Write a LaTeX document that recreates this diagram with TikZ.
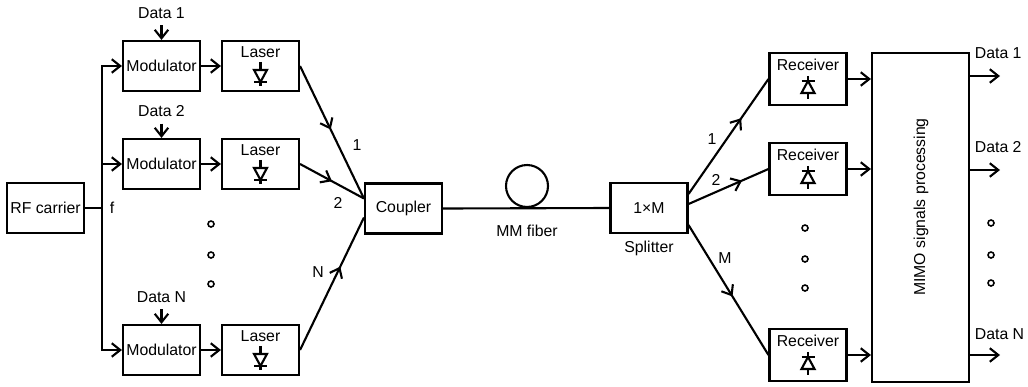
\documentclass[tikz,border=0pt]{standalone}
\usepackage{fontspec}
\setmainfont{Liberation Sans}
\usetikzlibrary{arrows.meta,calc,decorations.markings}

\tikzset{
  blk/.style={draw,minimum width=1.54cm,minimum height=1cm,inner sep=0pt},
  arr/.style={-{Straight Barb[length=1.7mm,width=2.7mm]}},
  midarr/.style={postaction={decorate},decoration={markings,
    mark=at position #1 with {\arrow{Straight Barb[length=1.7mm,width=2.7mm]}}}},
  dot/.style={circle,draw,line width=0.9pt,inner sep=0pt,minimum size=1.2mm},
  ldiode/.pic={
    \draw (0,0) -- (0,8);
    \draw (-6.5,8) -- (6.5,8) -- (0,20) -- cycle;
    \draw (-6.5,20) -- (6.5,20);
    \draw (0,20) -- (0,24);
  },
  pdiode/.pic={
    \draw (0,0) -- (0,5);
    \draw (-6.5,5) -- (6.5,5);
    \draw (0,5) -- (6.5,17) -- (-6.5,17) -- cycle;
    \draw (0,17) -- (0,23);
  }
}

\begin{document}
\begin{tikzpicture}[x=0.02cm,y=-0.02cm,line width=1.2pt,font=\fontsize{9}{10}\selectfont]
\useasboundingbox (0,0) rectangle (1028,386);
% transmitters
\node[blk] (rf) at (45.5,208) {RF carrier};
\coordinate (f) at (102,208);
\draw (rf.east) -- (f);
\node (flab) at (112,208) {f};
\foreach \i/\y in {1/66,2/164,N/350}{
  \node[blk] (mod\i) at (161.5,\y) {Modulator};
  \node[blk] (las\i) at (260.5,\y) {};
  \node (lt\i) at ($(las\i.north)+(0,12)$) {Laser};
  \pic at ($(las\i.north)+(0,22)$) {ldiode};
  \node (d\i) at (161.5,\y-53) {Data \i};
  \draw[arr] (d\i) -- (mod\i);
  \draw[arr] (f) |- (mod\i);
  \draw[arr] (mod\i) -- (las\i);
}
\foreach \y in {224,255,284} \node[dot] (tdot\y) at (211,\y) {};
% coupler and fiber
\node[blk] (cpl) at (403.5,208.5) {Coupler};
\draw[midarr=0.48] (las1.east) -- ($(cpl.west)+(0,-10)$);
\draw[midarr=0.5] (las2.east) -- ($(cpl.west)+(0,-10)$);
\draw[midarr=0.63] (lasN.east) -- ($(cpl.west)+(0,9)$);
\node (n1) at (357,145) {1};
\node (n2) at (338,203) {2};
\node (nN) at (318,272) {N};
\node[blk] (spl) at (649,208) {1×M};
\node (spltxt) at (649,248) {Splitter};
\draw (cpl.east) -- (spl.west);
\node[circle,draw,minimum size=0.84cm,inner sep=0pt] (coil) at (527,186) {};
\node (mmf) at (527,231) {MM fiber};
% receivers
\node[draw,minimum width=1.94cm,minimum height=6.58cm] (mimo) at (920.5,217.5) {};
\node[rotate=90] (mimotxt) at (921,207) {MIMO signals processing};
\foreach \i/\y in {1/79,2/169,M/355}{
  \node[blk,minimum height=1.04cm] (rx\i) at (808,\y) {};
  \node (rt\i) at ($(rx\i.north)+(0,13)$) {Receiver};
  \pic at ($(rx\i.north)+(0,24)$) {pdiode};
  \draw[arr] (rx\i) -- (rx\i -| mimo.west);
}
\draw[midarr=0.66] ($(spl.east)+(0,-14)$) -- (rx1.west);
\draw[midarr=0.67] ($(spl.east)+(0,-4)$) -- (rx2.west);
\draw[midarr=0.55] ($(spl.east)+(0,17)$) -- (rxM.west);
\node (m1) at (712,139) {1};
\node (m2) at (716,180) {2};
\node (mM) at (725,258) {M};
\foreach \y in {228,259,288} \node[dot] (rdot\y) at (805,\y) {};
% outputs
\foreach \i/\y/\t in {1/76/53,2/170/147,N/355/334}{
  \coordinate (o\i) at (1000,\y);
  \draw[arr] (mimo.east |- o\i) -- (o\i);
  \node[anchor=west] (od\i) at (968,\t) {Data \i};
}
\foreach \y in {223,255,283} \node[dot] (odot\y) at (991,\y) {};
\end{tikzpicture}
\end{document}
